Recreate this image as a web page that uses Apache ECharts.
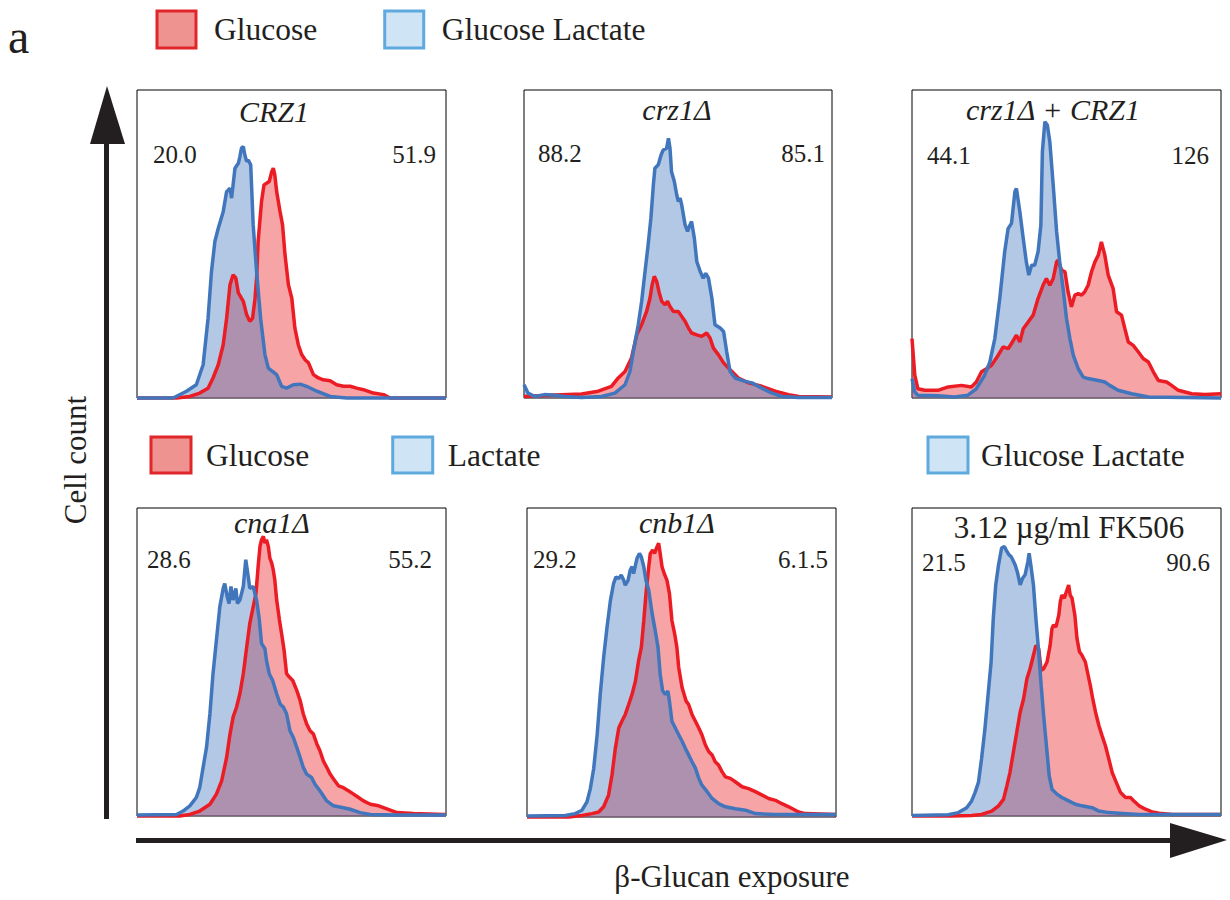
<!DOCTYPE html>
<html>
<head>
<meta charset="utf-8">
<script src="https://cdn.jsdelivr.net/npm/echarts@6/dist/echarts.min.js"></script>
<style>
  html, body { margin: 0; background: #fff; }
  #main { width: 1230px; height: 900px; }
</style>
</head>
<body>
<div id="main"></div>
<script>
// panel labels
var panelTitles = ['CRZ1', 'crz1Δ', 'crz1Δ + CRZ1', 'cna1Δ', 'cnb1Δ', '3.12 µg/ml FK506'];
var leftValues = ['20.0', '88.2', '44.1', '28.6', '29.2', '21.5'];
var rightValues = ['51.9', '85.1', '126', '55.2', '6.1.5', '90.6'];
var redNames = ['Glucose', 'Glucose', 'Glucose', 'Glucose', 'Glucose', 'Glucose'];
var blueNames = ['Glucose Lactate', 'Glucose Lactate', 'Glucose Lactate', 'Lactate', 'Lactate', 'Glucose Lactate'];

// histograms: [exposure bin (0-100), cell count (% of panel height)]
var crz1Glucose = [[0,0],[12.8,0],[17.1,0.5],[20.3,1.6],[23,3.2],[24.6,6.5],[26.3,10.8],[27.9,17.3],[29,25.9],[30.1,36.8],[31.1,40],[32,38.9],[32.8,34.1],[34.4,31.4],[35.5,27],[36.5,24.9],[37.4,25.9],[38.2,32.4],[38.7,38.9],[39.2,50.8],[40.3,63.8],[41.1,69.2],[41.9,69.7],[42.8,70.3],[43.6,73.5],[44.1,74.6],[44.6,72.4],[45.2,67],[46.3,60.5],[47.1,56.2],[47.9,46.5],[49,36.8],[50.1,32.4],[51.1,22.7],[52.2,17.3],[53.3,14.1],[54.4,12.4],[55.5,11.4],[57.1,7.6],[58.7,6.5],[60.3,5.9],[62.5,5.6],[64.6,4.3],[66.8,3.8],[69,3.8],[71.1,3.2],[73.3,2.7],[76.5,1.6],[79.8,1.1],[81.9,0],[100,0]];
var crz1Lactate = [[0,0],[11.7,0],[16,2.2],[19.2,4.3],[21.4,10.8],[23,25.9],[24.1,41],[25.2,50.8],[26.3,55.1],[27.9,60.5],[29,67],[30.1,68.1],[30.6,64.9],[31.1,69.2],[31.7,74.6],[32.8,76.2],[33.3,78.4],[33.8,81.1],[34.4,81.6],[34.9,78.9],[35.5,76.8],[36,77.3],[36.8,75.7],[37.6,56.2],[38.7,41.1],[40,25.9],[41.4,14.1],[42.5,9.7],[43.9,8.6],[45.2,7.6],[46.8,3.8],[48.4,3.2],[50.6,4.3],[52.8,4.5],[54.9,3.8],[58.2,2.2],[62.5,0.5],[67.9,0],[100,0]];

var crz1dGlucose = [[0,0.5],[7.8,0.9],[18.7,1.3],[24.1,2.2],[28.4,3.8],[30.6,6.5],[32.8,8.6],[34.9,13],[36.6,20.5],[38.2,23.8],[39.8,28.1],[40.9,32.4],[41.6,36.8],[42.3,39.5],[43.1,37.8],[43.8,34.6],[44.7,31.4],[45.8,30.3],[46.6,31.4],[47.4,29.7],[48.5,28.1],[50.1,28.1],[51.2,26.5],[52.3,24.9],[53.4,22.7],[54.4,21.1],[56.1,20.5],[57.7,20],[59.3,21.1],[60.4,19.5],[61.5,16.2],[63.1,14.1],[64.8,11.4],[66.4,9.7],[68,8.1],[69.6,6.5],[72.9,4.9],[77.2,3.8],[81.6,2.2],[85.9,1.1],[89.2,0.5],[100,0.3]];
var crz1dLactate = [[0,4.3],[1.3,1.6],[3.5,0.5],[6.7,1.1],[10,0.9],[13.2,0.5],[18.7,0.2],[25.2,0.5],[29.5,1.6],[32.8,4.3],[34.4,8.6],[35.5,15.1],[37.1,23.8],[38.2,31.4],[39.3,41.1],[40.3,49.7],[41.2,58.4],[42,69.2],[42.5,74.6],[43.6,75.7],[44.5,78.9],[45.2,80.5],[46.3,81.1],[46.9,84.3],[47.4,81.1],[47.9,73.5],[48.8,70.3],[49.6,65.9],[50.1,63.8],[50.7,64.9],[51.2,62.7],[52.3,56.2],[53.1,54.1],[53.9,56.2],[54.4,57.3],[55.3,51.9],[56.1,44.3],[57.2,41.1],[58.2,38.9],[59,40.5],[59.9,38.9],[61,32.4],[62,23.8],[63.7,22.7],[64.8,21.6],[65.8,15.1],[66.9,8.6],[68.5,6.5],[71.8,5.4],[74,4.9],[77.2,3.2],[80.5,1.6],[83.7,0.5],[89.2,0.2],[100,0.2]];

var compGlucose = [[0,19.3],[0.9,7.4],[1.9,3],[4.1,2.5],[8.4,2.5],[11.7,3.6],[16,4.1],[19.2,3.6],[20.8,5.2],[22.5,8.5],[24.1,9.5],[25.7,10.6],[27.9,13.9],[29.5,16.6],[31.1,16],[32.2,17.7],[33.8,20.4],[34.9,18.2],[36,22.5],[37.6,24.7],[39.2,26.9],[40.8,32.3],[42.4,36.6],[43.5,38.8],[44.6,36.6],[45.7,38.8],[46.8,44.2],[47.3,44.7],[48.4,41.5],[49.5,41],[50.5,34.5],[51.6,29.6],[52.7,33.4],[53.8,33.9],[54.9,33.4],[55.9,34.5],[57,36.6],[58.1,41],[59.2,44.2],[60.3,46.4],[61.3,50.7],[62.4,46.4],[63.5,39.9],[65.1,35.5],[66.2,28],[67.8,26.9],[68.9,22.5],[70,18.2],[71.6,17.1],[73.2,15],[74.8,12.8],[76.5,11.7],[78.1,8.5],[79.7,5.7],[82.4,5.2],[84,4.1],[86.2,2.5],[90.5,1.4],[94.8,1.1],[100,1.4]];
var compLactate = [[0,6.3],[0.9,2],[1.9,0.9],[8.4,0.7],[13.8,0.3],[18.1,0.9],[20.8,3],[23.5,7.4],[25.2,11.7],[26.8,19.3],[28.4,32.3],[30,47.5],[31.1,55],[32.2,56.7],[33.3,67],[33.8,68],[34.9,60.5],[36,51.8],[37,44.2],[37.8,39.9],[38.7,43.1],[39.7,43.1],[40.8,47.5],[41.7,56.1],[42.2,80],[43,89.7],[43.8,88.6],[44.6,83.2],[45.7,69.1],[46.8,54],[47.8,44.2],[48.9,35.5],[50,25.8],[51.1,19.3],[52.2,13.9],[53.8,9.5],[55.4,6.8],[57,6.3],[60.3,5.7],[62.4,5.2],[64,4.1],[66.7,2.5],[71.1,1.4],[76.5,0.3],[100,0]];

var cna1Glucose = [[0,0],[13.8,0],[17.1,0.5],[20.3,1.6],[23.6,3.8],[25.7,7.1],[27.4,11.4],[29,19],[30.1,26.6],[31.1,32.1],[32.2,35.3],[33.3,39.7],[34.4,46.2],[35.5,54.9],[36.5,62.5],[37.6,67.9],[38.5,72.3],[39.2,81],[39.8,87.5],[40.3,89.7],[40.9,90.8],[41.4,88.6],[41.9,89.7],[42.5,87.5],[43,83.7],[43.6,82.1],[44.1,79.9],[44.6,76.6],[45.2,70.1],[46.1,63.6],[46.8,59.2],[47.6,53.8],[48.4,46.2],[49.3,45.1],[50.4,44],[51.7,40.8],[52.8,37.5],[53.8,33.2],[54.9,29.9],[56,27.7],[57.1,26.6],[58.2,23.4],[59.2,21.2],[60.3,17.9],[61.4,15.8],[62.5,13.6],[63.6,12],[65.2,9.8],[66.8,9.2],[68.4,8.2],[70.1,7.1],[71.7,6],[73.3,4.9],[75.5,3.8],[78.2,3.3],[81.1,2.2],[84.1,1.1],[89.5,0.8],[99.2,0.5],[100,0.5]];
var cna1Lactate = [[0,0.3],[12.8,0.5],[14.9,1.6],[17.1,3.3],[19.2,6],[20.3,9.2],[21.4,15.8],[22.5,22.3],[23.6,33.2],[24.6,46.2],[25.7,57.1],[26.8,67.9],[27.9,73.9],[28.4,75.5],[29.2,71.2],[29.8,69],[30.4,74.5],[31.1,70.1],[32,73.9],[32.5,69],[33.3,70.1],[34.4,74.5],[35.2,83.2],[36,77.7],[36.5,73.9],[37.6,74.5],[38.7,70.1],[39.6,63.6],[40.3,56],[41.4,54.3],[41.9,50.5],[42.8,46.2],[43.9,44],[45.2,39.7],[46.3,36.4],[47.4,35.3],[48.4,33.2],[49.5,27.7],[50.6,25.5],[51.7,22.3],[52.8,19],[53.8,15.8],[54.9,13.6],[56.5,12.5],[57.6,10.3],[59.2,8.2],[61.4,4.9],[63.6,3.3],[66.8,2.7],[69,2.2],[72.2,1.1],[75.5,0.5],[84.1,0.3],[100,0.3]];

var cnb1Glucose = [[0,0],[13.5,0],[17.8,0.5],[21,1.1],[23.2,1.6],[24.8,3.3],[26.4,7.1],[27.5,13.6],[28.6,22.3],[29.7,28.8],[30.7,31],[31.8,33.2],[32.9,36.4],[34,39.7],[35.1,44],[36.1,50.5],[37,54.9],[37.8,63.6],[38.5,72.3],[39.4,81],[39.9,85.3],[40.7,86.4],[41.3,85.3],[42.1,87.5],[42.6,88.6],[43.1,85.3],[43.7,81],[44.4,78.8],[45.3,76.6],[46.1,72.3],[46.9,63.6],[47.8,59.2],[48.5,54.9],[49.1,48.4],[50.2,41.8],[51.5,37.5],[52.3,36.4],[53.4,33.2],[54.5,31],[55.6,28.8],[56.6,26.6],[57.7,23.4],[58.8,21.2],[59.9,20.1],[60.9,17.9],[62,16.8],[63.1,14.7],[64.2,13],[65.8,12.5],[67.4,11.4],[69.6,9.8],[71.7,9.2],[73.9,8.2],[76.1,7.1],[78.2,6],[80.4,5.4],[82.5,4.3],[84.7,3.3],[87.9,1.6],[90.1,1.1],[100,0.8]];
var cnb1Lactate = [[0,0.3],[12.4,0.5],[15.6,1.1],[17.8,2.2],[19.4,4.9],[20.5,9.2],[21.6,15.8],[22.7,26.6],[23.7,39.7],[24.8,51.6],[25.9,61.4],[27,70.1],[28,75.5],[28.8,77.7],[29.7,77.2],[30.5,78.3],[31.3,76.6],[31.8,75],[32.7,76.6],[33.4,79.9],[34,81],[34.5,78.8],[35.1,81.5],[35.6,83.7],[36.4,85.3],[37,84.2],[37.8,81],[38.5,76.6],[39.4,73.4],[40.5,65.8],[41.5,60.3],[42.4,54.9],[43.1,46.2],[43.9,40.8],[44.8,39.7],[45.6,40.8],[46.1,37.5],[46.9,31],[48,28.8],[49.1,26.6],[50.2,24.5],[51.2,22.3],[52.3,20.1],[53.4,17.9],[54.5,15.8],[55.6,12.5],[56.6,10.3],[58.3,8.2],[59.9,6],[62,4.3],[64.2,3.3],[67.4,2.7],[70.7,2.2],[73.9,1.1],[80.4,0.8],[100,0.8]];

var fkGlucose = [[0,0],[12.8,0],[19.3,0.2],[22.5,0.5],[25.8,1.6],[28,3.3],[29.6,5.4],[30.7,9.8],[31.7,14.1],[32.8,20.7],[33.9,27.2],[35,33.7],[36.1,38],[37.2,44.6],[38.2,47.8],[39.3,52.2],[40.1,55.4],[41,54.3],[41.8,47.3],[42.6,47.8],[43.7,50],[44.7,55.4],[45.3,60.9],[45.8,62],[46.6,61.4],[47.5,65.2],[48,69.6],[48.5,71.7],[49.3,70.7],[49.8,72.3],[50.7,75],[51.2,71.7],[51.8,70.7],[52.7,65.2],[53.4,57.6],[54.2,53.3],[55,52.2],[56.1,50],[57,45.7],[57.7,42.4],[58.5,38],[59.4,33.7],[60.5,29.3],[61.5,26.1],[62.6,22.8],[63.7,18.5],[64.8,14.1],[65.9,11.4],[67.5,7.6],[69.1,6],[70.7,6],[71.8,4.9],[73.5,3.3],[75.6,2.2],[77.8,1.3],[80,0.9],[84.3,0.5],[100,0.5]];
var fkLactate = [[0,0.2],[11.7,0.4],[15,1.1],[17.7,2.7],[19.3,4.9],[20.4,7.6],[21.5,10.9],[22.5,18.5],[23.6,28.3],[24.7,40.2],[25.6,50],[26.3,64.1],[27.1,75],[28,81.5],[29,87],[29.9,87.5],[30.7,85.9],[31.4,84.8],[32.1,84.2],[32.6,83.2],[33.4,81.5],[34.2,78.8],[35,75],[35.8,77.2],[36.6,78.3],[37.5,82.6],[37.9,85.3],[38.6,80.4],[39.3,75],[40.1,64.1],[41,53.3],[41.8,42.4],[42.6,32.6],[43.7,20.7],[44.4,13],[45.3,8.7],[46.9,7.1],[48.5,6],[50.7,4.9],[52.9,3.8],[55,3.3],[58.3,2.7],[60.5,1.6],[63.7,1.1],[67,0.9],[73.5,0.5],[100,0.5]];

var glucoseData = [crz1Glucose, crz1dGlucose, compGlucose, cna1Glucose, cnb1Glucose, fkGlucose];
var lactateData = [crz1Lactate, crz1dLactate, compLactate, cna1Lactate, cnb1Lactate, fkLactate];

var RED = '#ec1c24';
var BLUE = '#4176bc';
var INK = '#231f20';
var FONT = 'Liberation Serif, serif';

// panel frames [left, top, width, height]
var boxes = [
  [137, 90, 309, 308], [524, 90, 308, 308], [912, 90, 309, 308],
  [137, 508, 309, 308], [527, 508, 309, 309], [912, 508, 309, 308]
];
// label placement per panel
var titlePos = [[274, 111], [677, 109], [1053, 109], [272, 522], [677, 522], [1069, 527]];
var numLeftX = [153, 538, 927, 147, 533, 922];
var numRightX = [436, 825, 1209, 432, 828, 1210];
var numY = [154, 153, 155, 559, 559, 562];

function getOption() {
  var grids = [], xAxes = [], yAxes = [], series = [], texts = [];

  boxes.forEach(function (b, i) {
    grids.push({
      left: b[0], top: b[1], width: b[2], height: b[3],
      show: true, borderColor: '#000', borderWidth: 1, backgroundColor: 'transparent'
    });
    xAxes.push({ type: 'value', gridIndex: i, min: 0, max: 100, show: false });
    yAxes.push({ type: 'value', gridIndex: i, min: 0, max: 100, show: false });

    series.push({
      type: 'line', name: redNames[i], xAxisIndex: i, yAxisIndex: i,
      data: glucoseData[i], symbol: 'none', clip: false,
      lineStyle: { color: RED, width: 3.5 },
      itemStyle: { color: RED },
      areaStyle: { color: RED, opacity: 0.4 }
    });
    series.push({
      type: 'line', name: blueNames[i], xAxisIndex: i, yAxisIndex: i,
      data: lactateData[i], symbol: 'none', clip: false,
      lineStyle: { color: BLUE, width: 3.5 },
      itemStyle: { color: BLUE },
      areaStyle: { color: BLUE, opacity: 0.4 }
    });

    texts.push({
      type: 'text', x: titlePos[i][0], y: titlePos[i][1],
      style: {
        text: panelTitles[i], fill: INK, font: (i === 5 ? '' : 'italic ') + (i === 5 ? 31 : 30) + 'px ' + FONT,
        textAlign: 'center', textVerticalAlign: 'middle'
      }
    });
    texts.push({
      type: 'text', x: numLeftX[i], y: numY[i],
      style: { text: leftValues[i], fill: INK, font: '25px ' + FONT, textAlign: 'left', textVerticalAlign: 'middle' }
    });
    texts.push({
      type: 'text', x: numRightX[i], y: numY[i],
      style: { text: rightValues[i], fill: INK, font: '25px ' + FONT, textAlign: 'right', textVerticalAlign: 'middle' }
    });
  });

  // axis arrows and labels
  texts.push(
    { type: 'line', shape: { x1: 106.5, y1: 819, x2: 106.5, y2: 140 }, style: { stroke: INK, lineWidth: 5 } },
    { type: 'polygon', shape: { points: [[107, 86], [90, 144], [125, 144]] }, style: { fill: INK } },
    { type: 'line', shape: { x1: 136, y1: 840.5, x2: 1173, y2: 840.5 }, style: { stroke: INK, lineWidth: 5 } },
    { type: 'polygon', shape: { points: [[1227, 840], [1170, 823], [1170, 858]] }, style: { fill: INK } },
    {
      type: 'text', x: 75, y: 460, rotation: Math.PI / 2,
      style: { text: 'Cell count', fill: INK, font: '31px ' + FONT, textAlign: 'center', textVerticalAlign: 'middle' }
    },
    {
      type: 'text', x: 732, y: 876,
      style: { text: 'β-Glucan exposure', fill: INK, font: '31px ' + FONT, textAlign: 'center', textVerticalAlign: 'middle' }
    },
    {
      type: 'text', x: 8, y: 36,
      style: { text: 'a', fill: INK, font: '48px ' + FONT, textAlign: 'left', textVerticalAlign: 'middle' }
    }
  );

  var redKey = { color: '#ef9390', borderColor: '#e1262b', borderWidth: 3 };
  var blueKey = { color: '#cfe4f5', borderColor: '#5ea9de', borderWidth: 3 };
  function legendText(pad) {
    return { fontFamily: FONT, fontSize: 31.5, color: INK, padding: [0, 0, 0, pad] };
  }

  return {
    animation: false,
    backgroundColor: '#fff',
    legend: [
      {
        left: 155.5, top: 9.5, padding: 0, itemWidth: 39, itemHeight: 37, itemGap: 66,
        selectedMode: false, icon: 'rect', textStyle: legendText(13),
        data: [{ name: 'Glucose', itemStyle: redKey }, { name: 'Glucose Lactate', itemStyle: blueKey }]
      },
      {
        left: 149.5, top: 435.5, padding: 0, itemWidth: 40, itemHeight: 36, itemGap: 82,
        selectedMode: false, icon: 'rect', textStyle: legendText(10),
        data: [{ name: 'Glucose', itemStyle: redKey }, { name: 'Lactate', itemStyle: blueKey }]
      },
      {
        left: 926.5, top: 435.5, padding: 0, itemWidth: 40, itemHeight: 36,
        selectedMode: false, icon: 'rect', textStyle: legendText(8),
        data: [{ name: 'Glucose Lactate', itemStyle: blueKey }]
      }
    ],
    grid: grids,
    xAxis: xAxes,
    yAxis: yAxes,
    graphic: texts,
    series: series
  };
}

var chart = echarts.init(document.getElementById('main'), null, { renderer: 'svg', width: 1230, height: 900 });
chart.setOption(getOption());
</script>
</body>
</html>
